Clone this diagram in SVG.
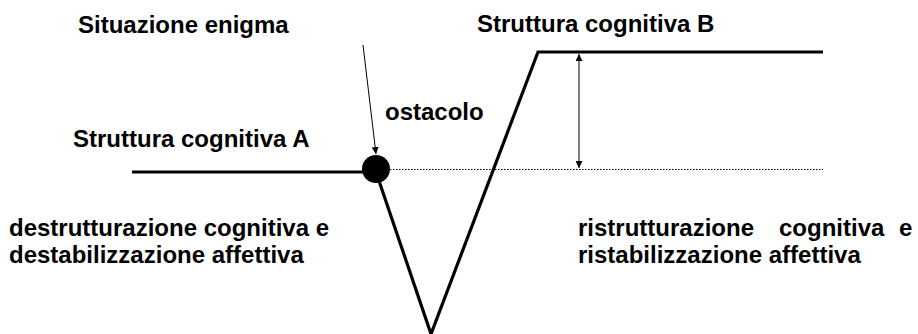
<svg xmlns="http://www.w3.org/2000/svg" width="918" height="334" viewBox="0 0 918 334">
<defs>
<style>
.t{font-family:"Liberation Sans",Arial,sans-serif;font-weight:bold;font-size:24px;fill:#000}
.thick{stroke:#000;stroke-width:3.2;fill:none;stroke-linejoin:miter}
.thin{stroke:#000;stroke-width:1;fill:none}
.dot{stroke:#000;stroke-width:1;stroke-dasharray:1.5 1.5;fill:none}
</style>
<marker id="ah" viewBox="0 0 10 10" refX="10" refY="5" markerWidth="7" markerHeight="7" orient="auto-start-reverse" markerUnits="userSpaceOnUse">
<path d="M0,0 L10,5 L0,10 z" fill="#000"/>
</marker>
</defs>
<rect width="918" height="334" fill="#fff"/>
<g id="connectors">
<path class="thick" d="M132,172 H376"/>
<path class="thick" d="M376,172 L431,334 L538,52 H823"/>
<path class="dot" d="M390,169.5 H823"/>
<path class="thin" d="M363,45 L376,154" marker-end="url(#ah)"/>
<path class="thin" d="M579,54 V168" marker-start="url(#ah)" marker-end="url(#ah)"/>
</g>
<g id="obstacle"><circle cx="376" cy="169" r="14" fill="#000"/></g>
<g id="label-situazione"><text class="t" x="78" y="33">Situazione enigma</text></g>
<g id="label-struttura-b"><text class="t" x="477" y="32">Struttura cognitiva B</text></g>
<g id="label-ostacolo"><text class="t" x="385" y="120">ostacolo</text></g>
<g id="label-struttura-a"><text class="t" x="73" y="147">Struttura cognitiva A</text></g>
<g id="label-destrutturazione">
<text class="t" x="9" y="236">destrutturazione cognitiva e</text>
<text class="t" x="9" y="263">destabilizzazione affettiva</text>
</g>
<g id="label-ristrutturazione">
<text class="t" y="236"><tspan x="578">ristrutturazione</tspan><tspan x="779">cognitiva</tspan><tspan x="899">e</tspan></text>
<text class="t" x="578" y="263">ristabilizzazione affettiva</text>
</g>
</svg>
